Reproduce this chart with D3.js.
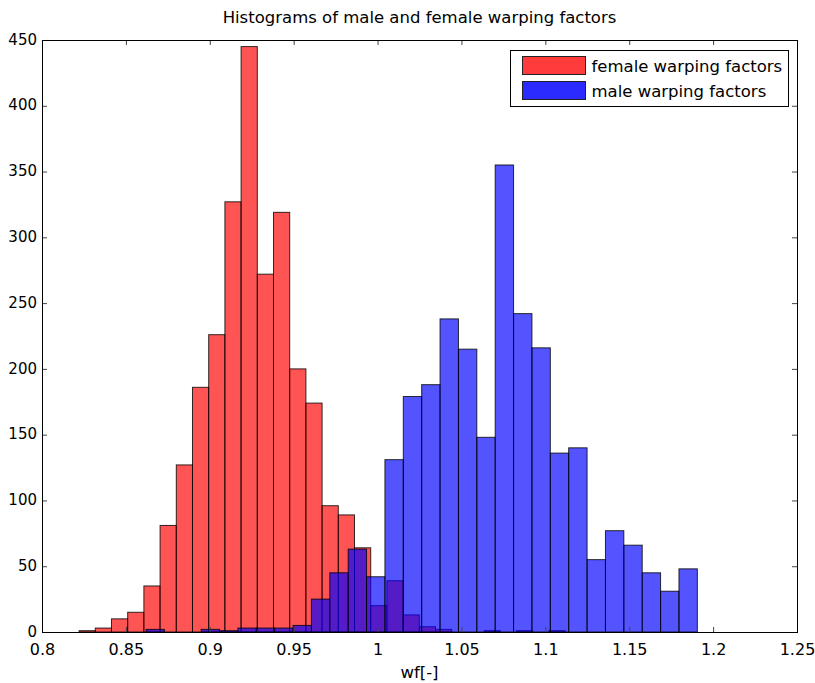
<!DOCTYPE html>
<html>
<head>
<meta charset="utf-8">
<script src="https://cdn.jsdelivr.net/npm/d3@7"></script>
<style>
  html, body { margin: 0; padding: 0; background: #fff; }
  svg text { font-family: "DejaVu Sans", "Liberation Sans", Arial, sans-serif; fill: #000; }
</style>
</head>
<body>
<svg id="chart" width="815" height="683"></svg>
<script>
// Histogram bin ranges (first left edge, last right edge) and counts per bin
const femaleBinRange = [0.8221, 1.1118];
const femaleCounts = [1, 3, 10, 15, 35, 81, 127, 186, 226, 327, 445, 272, 319, 200, 174,
                      96, 89, 64, 20, 39, 13, 4, 2, 0, 0, 1, 0, 1, 0, 1];
const maleBinRange = [0.8620, 1.1906];
const maleCounts = [2, 0, 0, 2, 1, 3, 3, 3, 5, 25, 45, 63, 42, 131, 179, 188, 238, 215,
                    148, 355, 242, 216, 136, 140, 55, 77, 66, 45, 31, 48];

const xTicks = [0.8, 0.85, 0.9, 0.95, 1, 1.05, 1.1, 1.15, 1.2, 1.25];
const yTicks = [0, 50, 100, 150, 200, 250, 300, 350, 400, 450];

const seriesNames = ["female warping factors", "male warping factors"];
const titleText = "Histograms of male and female warping factors";
const xLabelText = "wf[-]";

const margin = { left: 42, right: 18, top: 40, bottom: 51 };
const W = 815, H = 683;
const svg = d3.select("#chart");

const x = d3.scaleLinear().domain([0.8, 1.25]).range([margin.left, W - margin.right]);
const y = d3.scaleLinear().domain([0, 450]).range([H - margin.bottom, margin.top]);

// Turn a bin range + counts into bin objects with left/right edges
function toBins(range, counts) {
  const edge = d3.scaleLinear().domain([0, counts.length]).range(range);
  return counts.map((c, i) => ({ x0: edge(i), x1: edge(i + 1), count: c }));
}

const series = [
  { name: seriesNames[0], bins: toBins(femaleBinRange, femaleCounts), fill: "rgb(255,0,0)", key: "#ff3b3b" },
  { name: seriesNames[1], bins: toBins(maleBinRange, maleCounts), fill: "rgb(0,0,255)", key: "#2b2bff" }
];

// Bars: female first, male drawn over it, both semi-transparent
const plot = svg.append("g");
series.forEach(s => {
  plot.append("g")
    .selectAll("rect")
    .data(s.bins.filter(b => b.count > 0))
    .join("rect")
    .attr("x", d => x(d.x0))
    .attr("y", d => y(d.count))
    .attr("width", d => x(d.x1) - x(d.x0))
    .attr("height", d => y(0) - y(d.count))
    .attr("fill", s.fill)
    .attr("fill-opacity", 0.67)
    .attr("stroke", "#000")
    .attr("stroke-opacity", 0.8)
    .attr("stroke-width", 1);
});

// Axes with inward ticks on all four sides
const fmt = d3.format("~g");
const axisStyle = size => g => {
  g.select(".domain").remove();
  g.selectAll(".tick line").attr("stroke", "#444");
  g.selectAll(".tick text").style("font-size", size);
};

svg.append("g")
  .attr("transform", `translate(0,${y(0)})`)
  .call(d3.axisBottom(x).tickValues(xTicks).tickFormat(fmt).tickSize(-5).tickPadding(12))
  .call(axisStyle("16px"));

svg.append("g")
  .attr("transform", `translate(0,${y(450)})`)
  .call(d3.axisTop(x).tickValues(xTicks).tickFormat("").tickSize(-5))
  .call(axisStyle("16px"));

svg.append("g")
  .attr("transform", `translate(${x(0.8)},0)`)
  .call(d3.axisLeft(y).tickValues(yTicks).tickFormat(fmt).tickSize(-5).tickPadding(5))
  .call(axisStyle("15px"))
  .call(g => g.selectAll(".tick text").attr("dy", "0.28em"));

svg.append("g")
  .attr("transform", `translate(${x(1.25)},0)`)
  .call(d3.axisRight(y).tickValues(yTicks).tickFormat("").tickSize(-5))
  .call(axisStyle("15px"));

// Plot frame
svg.append("rect")
  .attr("x", x(0.8) + 0.5).attr("y", y(450) + 0.5)
  .attr("width", x(1.25) - x(0.8)).attr("height", y(0) - y(450))
  .attr("fill", "none").attr("stroke", "#000").attr("stroke-width", 1);

// Title and x-axis label
svg.append("text")
  .attr("x", (x(0.8) + x(1.25)) / 2).attr("y", 23)
  .attr("text-anchor", "middle").style("font-size", "16.5px")
  .text(titleText);

svg.append("text")
  .attr("x", (x(0.8) + x(1.25)) / 2).attr("y", 678)
  .attr("text-anchor", "middle").style("font-size", "16.5px")
  .text(xLabelText);

// Legend
const legend = svg.append("g").attr("transform", "translate(510.5,50.5)");
legend.append("rect")
  .attr("width", 278).attr("height", 56)
  .attr("fill", "#fff").attr("stroke", "#000").attr("stroke-width", 1);
series.forEach((s, i) => {
  legend.append("rect")
    .attr("x", 12).attr("y", 6 + i * 25)
    .attr("width", 63).attr("height", 18)
    .attr("fill", s.key).attr("stroke", "#222").attr("stroke-width", 1);
  legend.append("text")
    .attr("x", 81).attr("y", 21 + i * 25)
    .style("font-size", "16.5px")
    .text(s.name);
});
</script>
</body>
</html>
